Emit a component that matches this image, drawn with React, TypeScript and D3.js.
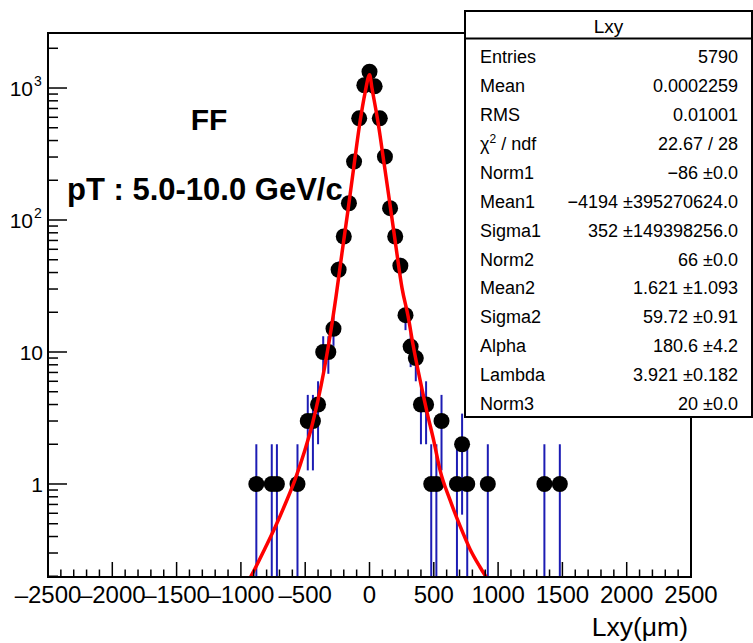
import React from 'react';
import * as d3 from 'd3';

// Histogram bin centres (Lxy, µm) and counts
const binCenters = [-880, -760, -720, -560, -480, -440, -400, -360, -320, -280, -240, -200, -160, -120, -80, -40, 0, 40, 80, 120, 160, 200, 240, 280, 320, 360, 400, 440, 480, 520, 560, 680, 720, 760, 920, 1360, 1480];
const counts = [1, 1, 1, 1, 3, 3, 4, 10, 10, 15, 42, 75, 134, 277, 589, 1050, 1328, 1030, 589, 302, 123, 75, 45, 19, 11, 9, 4, 4, 1, 1, 3, 1, 2, 1, 1, 1, 1];

// Fit curve
const fitX = [-929, -890, -813, -735, -657, -579, -502, -446, -400, -353, -307, -260, -214, -167, -121, -74, -35, 1, 19, 66, 113, 160, 206, 253, 300, 339, 393, 447, 502, 548, 626, 704, 781, 859, 937];
const fitY = [0.194, 0.229, 0.325, 0.468, 0.699, 1.08, 1.81, 2.8, 4.33, 7.31, 13.2, 26.5, 56.2, 119, 257, 552, 916, 1260, 1000, 552, 270, 130, 62.4, 30.5, 18.7, 11.3, 6.14, 3.51, 2.08, 1.28, 0.757, 0.481, 0.322, 0.235, 0.178];

const xMajorTicks = [-2500, -2000, -1500, -1000, -500, 0, 500, 1000, 1500, 2000, 2500];
const xTickLabels = ['\u20132500', '\u20132000', '\u20131500', '\u20131000', '\u2013500', '0', '500', '1000', '1500', '2000', '2500'];
const yMajorTicks = [1, 10, 100, 1000];
const yLabelBase = ['1', '10', '10', '10'];
const yLabelExp = ['', '', '2', '3'];

const statTitle = 'Lxy';
const statLabels = ['Entries', 'Mean', 'RMS', '\u03c7', 'Norm1', 'Mean1', 'Sigma1', 'Norm2', 'Mean2', 'Sigma2', 'Alpha', 'Lambda', 'Norm3'];
const statValues = ['5790', '0.0002259', '0.01001', '22.67 / 28', '\u221286 \u00b10.0', '\u22124194 \u00b1395270624.0', '352 \u00b1149398256.0', '66 \u00b10.0', '1.621 \u00b11.093', '59.72 \u00b10.91', '180.6 \u00b14.2', '3.921 \u00b10.182', '20 \u00b10.0'];

const FONT = '"Liberation Sans", Arial, Helvetica, sans-serif';

export default function App() {
  const W = 753, H = 643;
  const L = 48, R = 691, T = 33, B = 577;
  const x = d3.scaleLinear().domain([-2500, 2500]).range([L, R]);
  const y = d3.scaleLog().domain([0.1974, 2611]).range([B, T]);

  const xMinor: number[] = [];
  for (let v = -2500; v <= 2500; v += 100) if (v % 500 !== 0) xMinor.push(v);
  const yMinor: number[] = [];
  [0.1, 1, 10, 100, 1000].forEach(d => {
    for (let k = 2; k <= 9; k++) {
      const v = k * d;
      if (v >= 0.1974 && v <= 2611) yMinor.push(v);
    }
  });

  const fitData = fitX.map((xv, i) => ({ x: xv, y: fitY[i] }));
  const line = d3.line<{ x: number; y: number }>()
    .x(d => x(d.x))
    .y(d => y(d.y))
    .curve(d3.curveMonotoneX);

  const bx0 = 465, by0 = 11, bx1 = 752, by1 = 417;

  return (
    <svg width={W} height={H} style={{ position: 'absolute', left: 0, top: 0, background: '#fff' }} fontFamily={FONT}>
      <rect x={0} y={0} width={W} height={H} fill="#fff" />
      <defs>
        <clipPath id="frameClip">
          <rect x={L} y={T} width={R - L} height={B - T} />
        </clipPath>
      </defs>

      {/* error bars */}
      <g clipPath="url(#frameClip)">
        {binCenters.map((c, i) => {
          const v = counts[i];
          const e = Math.sqrt(v);
          const lo = Math.max(v - e, 0.1974);
          return <line key={i} x1={x(c)} x2={x(c)} y1={y(lo)} y2={y(v + e)} stroke="#1c1cb4" strokeWidth={2} />;
        })}
      </g>
      {/* markers */}
      <g>
        {binCenters.map((c, i) => (
          <circle key={i} cx={x(c)} cy={y(counts[i])} r={8} fill="#000" />
        ))}
      </g>
      {/* fit */}
      <g clipPath="url(#frameClip)">
        <path d={line(fitData) || ''} fill="none" stroke="#ff0000" strokeWidth={3.5} strokeLinejoin="round" />
      </g>

      {/* frame */}
      <rect x={L} y={T} width={R - L} height={B - T} fill="none" stroke="#000" strokeWidth={2} />

      {/* x ticks */}
      {xMajorTicks.map((t, i) => (
        <g key={'xm' + i}>
          <line x1={x(t)} x2={x(t)} y1={B} y2={B - 15} stroke="#000" strokeWidth={1.5} />
          <text x={x(t)} y={603} fontSize={24} textAnchor="middle" fill="#000">{xTickLabels[i]}</text>
        </g>
      ))}
      {xMinor.map((t, i) => (
        <line key={'xn' + i} x1={x(t)} x2={x(t)} y1={B} y2={B - 7.5} stroke="#000" strokeWidth={1.5} />
      ))}

      {/* y ticks */}
      {yMajorTicks.map((t, i) => (
        <g key={'ym' + i}>
          <line x1={L} x2={L + 19} y1={y(t)} y2={y(t)} stroke="#000" strokeWidth={1.5} />
          <text x={yLabelExp[i] ? 33 : 43} y={y(t) + 8} fontSize={21} textAnchor="end" fill="#000">{yLabelBase[i]}</text>
          {yLabelExp[i] && (
            <text x={34} y={y(t) - 2} fontSize={14} textAnchor="start" fill="#000">{yLabelExp[i]}</text>
          )}
        </g>
      ))}
      {yMinor.map((t, i) => (
        <line key={'yn' + i} x1={L} x2={L + 10} y1={y(t)} y2={y(t)} stroke="#000" strokeWidth={1.5} />
      ))}

      {/* axis title */}
      <text x={688} y={636} fontSize={26.5} textAnchor="end" fill="#000">Lxy(&#956;m)</text>

      {/* annotations */}
      <text x={209} y={130} fontSize={30} fontWeight="bold" textAnchor="middle" fill="#000">FF</text>
      <text x={67} y={200} fontSize={31} fontWeight="bold" fill="#000">pT : 5.0-10.0 GeV/c</text>

      {/* stats box */}
      <rect x={bx0} y={by0} width={bx1 - bx0} height={by1 - by0} fill="#fff" stroke="#000" strokeWidth={2} />
      <line x1={bx0} x2={bx1} y1={38.5} y2={38.5} stroke="#000" strokeWidth={2} />
      <text x={(bx0 + bx1) / 2} y={33} fontSize={19} textAnchor="middle" fill="#000">{statTitle}</text>
      {statLabels.map((lab, i) => {
        const cy = 56.7 + i * 28.9;
        return (
          <g key={'s' + i}>
            {i === 3 ? (
              <text x={480} y={cy + 6.5} fontSize={18} fill="#000">
                {lab}
                <tspan fontSize={12} dy={-7}>2</tspan>
                <tspan dy={7}> / ndf</tspan>
              </text>
            ) : (
              <text x={480} y={cy + 6.5} fontSize={18} fill="#000">{lab}</text>
            )}
            <text x={738} y={cy + 6.5} fontSize={18} textAnchor="end" fill="#000">{statValues[i]}</text>
          </g>
        );
      })}
    </svg>
  );
}
